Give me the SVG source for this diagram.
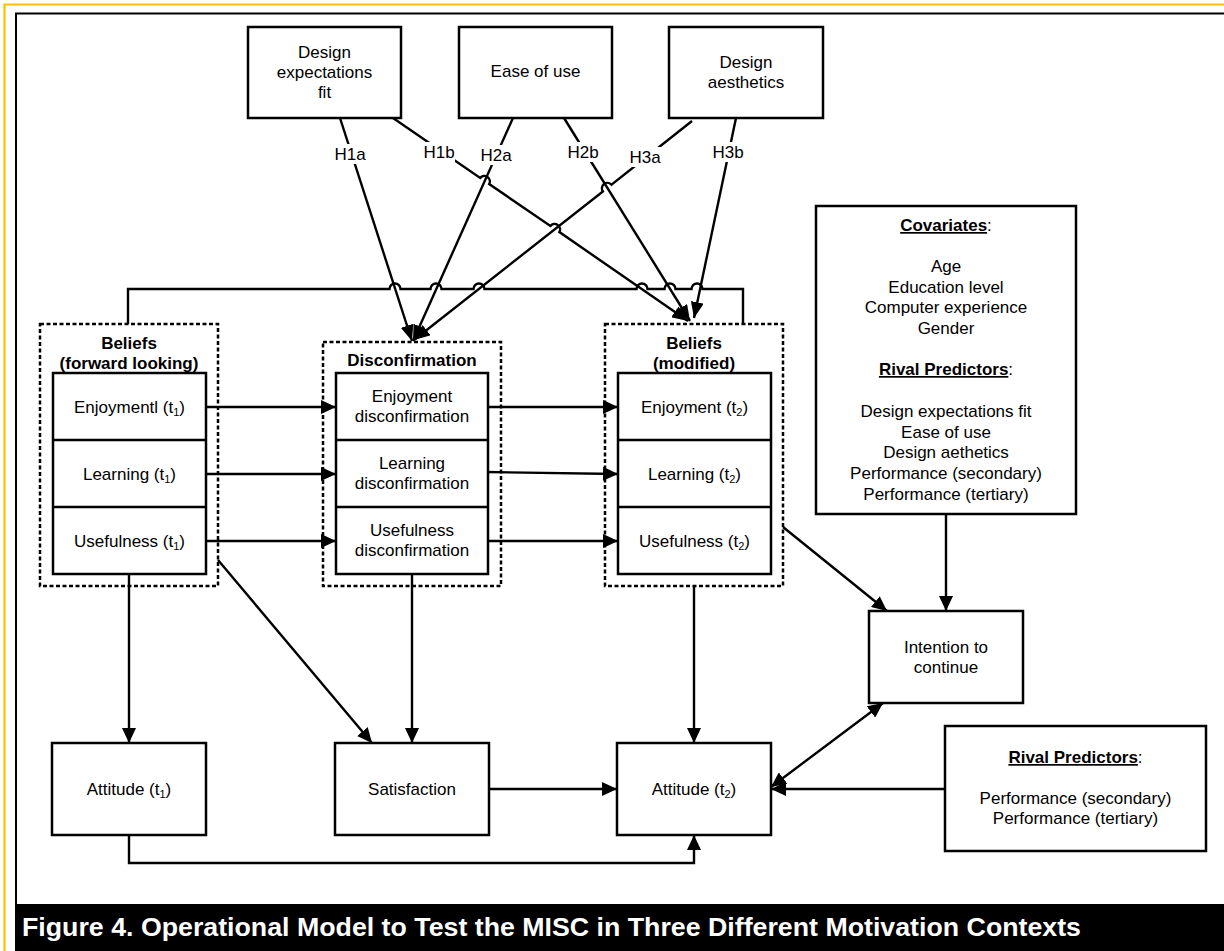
<svg xmlns="http://www.w3.org/2000/svg" width="1224" height="951" viewBox="0 0 1224 951">
  <style>
    text { font-family: "Liberation Sans", Arial, sans-serif; font-size: 17px; fill: #000; text-anchor: middle; }
    .b { font-weight: bold; }
    .box { fill: #fff; stroke: #000; stroke-width: 2.5; }
    .grp { fill: none; stroke: #000; stroke-width: 2.5; stroke-dasharray: 4 2.5; }
    .ln { fill: none; stroke: #000; stroke-width: 2.4; }
    .arr { marker-end: url(#ah); }
    .arr2 { marker-end: url(#ahs); }
    .sub { font-size: 11px; }
    .u { text-decoration: underline; }
    .cap { font-size: 26px; font-weight: bold; fill: #fff; text-anchor: start; }
  </style>
  <defs>
    <marker id="ah" markerUnits="userSpaceOnUse" viewBox="0 0 15 14" markerWidth="15" markerHeight="14" refX="15" refY="7" orient="auto-start-reverse">
      <path d="M0,0 L15,7 L0,14 z" fill="#000"/>
    </marker>
    <marker id="ahs" markerUnits="userSpaceOnUse" viewBox="0 0 16 13" markerWidth="16" markerHeight="13" refX="16" refY="6.5" orient="auto">
      <path d="M0,0 L16,6.5 L0,13 z" fill="#000"/>
    </marker>
  </defs>

  <!-- page frames -->
  <rect x="0" y="0" width="1224" height="951" fill="#fff"/>
  <path d="M4.5,951 V4.5 H1224" fill="none" stroke="#FFC000" stroke-width="2.2"/>
  <path d="M16,904 V13.5 H1224" fill="none" stroke="#000" stroke-width="2"/>

  <!-- connectors -->
  <g id="connectors">
    <!-- feedback line over the top of the belief groups, with hops -->
    <path class="ln" d="M128,324 V289 H389.5 a5.5,5.5 0 0 1 11,0 H430.5 a5.5,5.5 0 0 1 11,0 H473.5 a5.5,5.5 0 0 1 11,0 H636.5 a5.5,5.5 0 0 1 11,0 H664.5 a5.5,5.5 0 0 1 11,0 H691.5 a5.5,5.5 0 0 1 11,0 H743 V324"/>

    <!-- hypothesis paths -->
    <path class="ln arr2" d="M340,118 L412,341"/>
    <path class="ln arr2" d="M393,118 L480.2,177.9 A5.5,5.5 0 0 1 489.2,184.1 L550.4,225.9 A5.5,5.5 0 0 1 559.4,232.1 L688,321"/>
    <path class="ln arr2" d="M513,118 L413,341"/>
    <path class="ln arr2" d="M564,118 L690,321"/>
    <path class="ln arr2" d="M692,121 L611.5,184.6 A5.5,5.5 0 0 0 602.9,191.4 L414,340"/>
    <path class="ln arr2" d="M736,118 L694,318"/>

    <!-- belief rows to disconfirmation rows -->
    <path class="ln arr" d="M206,407 H336"/>
    <path class="ln arr" d="M206,474 H336"/>
    <path class="ln arr" d="M206,541 H336"/>
    <!-- disconfirmation rows to modified beliefs -->
    <path class="ln arr" d="M488,407 H618"/>
    <path class="ln arr" d="M485,472 L618,474"/>
    <path class="ln arr" d="M488,541 H618"/>

    <!-- downward links -->
    <path class="ln arr" d="M129,574 V743"/>
    <path class="ln arr" d="M218,560 L372,743"/>
    <path class="ln arr" d="M412,574 V743"/>
    <path class="ln arr" d="M694,586 V743"/>
    <path class="ln arr" d="M783,527 L887,611"/>
    <path class="ln arr" d="M946,514 V611"/>

    <!-- bottom row -->
    <path class="ln arr" d="M489,789 H617"/>
    <path class="ln arr" d="M945,789 H771"/>
    <path class="ln arr" d="M129,835 V863 H694 V835"/>
    <path class="ln arr" d="M771,787 L883,703" style="marker-start:url(#ah)"/>
  </g>

  <!-- hypothesis labels -->
  <g id="hyp-labels">
    <rect x="334" y="144" width="33" height="20" fill="#fff"/>
    <rect x="422" y="142" width="33" height="20" fill="#fff"/>
    <rect x="479" y="145" width="34" height="20" fill="#fff"/>
    <rect x="567" y="142" width="33" height="20" fill="#fff"/>
    <rect x="628" y="147" width="34" height="20" fill="#fff"/>
    <rect x="712" y="142" width="33" height="20" fill="#fff"/>
    <text x="350" y="160">H1a</text>
    <text x="439" y="158">H1b</text>
    <text x="496" y="161">H2a</text>
    <text x="583" y="158">H2b</text>
    <text x="645" y="163">H3a</text>
    <text x="728" y="158">H3b</text>
  </g>

  <!-- antecedent nodes -->
  <g id="design-fit">
    <rect class="box" x="248" y="27" width="153" height="91"/>
    <text x="324.5" y="58">Design</text>
    <text x="324.5" y="78">expectations</text>
    <text x="324.5" y="98">fit</text>
  </g>
  <g id="ease-of-use">
    <rect class="box" x="459" y="27" width="153" height="91"/>
    <text x="535.5" y="77">Ease of use</text>
  </g>
  <g id="design-aesthetics">
    <rect class="box" x="669" y="27" width="154" height="91"/>
    <text x="746" y="68">Design</text>
    <text x="746" y="88">aesthetics</text>
  </g>

  <!-- beliefs (forward looking) -->
  <g id="beliefs-t1">
    <rect class="grp" x="40" y="324" width="178" height="262"/>
    <text class="b" x="129" y="349">Beliefs</text>
    <text class="b" x="129" y="369">(forward looking)</text>
    <rect class="box" x="53" y="373" width="153" height="201"/>
    <path class="ln" d="M53,440 H206 M53,507 H206"/>
    <text x="129.5" y="413">Enjoymentl (t<tspan class="sub" dy="3">1</tspan><tspan dy="-3">)</tspan></text>
    <text x="129.5" y="480">Learning (t<tspan class="sub" dy="3">1</tspan><tspan dy="-3">)</tspan></text>
    <text x="129.5" y="547">Usefulness (t<tspan class="sub" dy="3">1</tspan><tspan dy="-3">)</tspan></text>
  </g>

  <!-- disconfirmation -->
  <g id="disconfirmation">
    <rect class="grp" x="323" y="342" width="178" height="244"/>
    <text class="b" x="412" y="366">Disconfirmation</text>
    <rect class="box" x="336" y="373" width="152" height="201"/>
    <path class="ln" d="M336,440 H488 M336,507 H488"/>
    <text x="412" y="402">Enjoyment</text>
    <text x="412" y="422">disconfirmation</text>
    <text x="412" y="469">Learning</text>
    <text x="412" y="489">disconfirmation</text>
    <text x="412" y="536">Usefulness</text>
    <text x="412" y="556">disconfirmation</text>
  </g>

  <!-- beliefs (modified) -->
  <g id="beliefs-t2">
    <rect class="grp" x="605" y="324" width="178" height="262"/>
    <text class="b" x="694" y="349">Beliefs</text>
    <text class="b" x="694" y="369">(modified)</text>
    <rect class="box" x="618" y="373" width="153" height="201"/>
    <path class="ln" d="M618,440 H771 M618,507 H771"/>
    <text x="694.5" y="413">Enjoyment (t<tspan class="sub" dy="3">2</tspan><tspan dy="-3">)</tspan></text>
    <text x="694.5" y="480">Learning (t<tspan class="sub" dy="3">2</tspan><tspan dy="-3">)</tspan></text>
    <text x="694.5" y="547">Usefulness (t<tspan class="sub" dy="3">2</tspan><tspan dy="-3">)</tspan></text>
  </g>

  <!-- covariates and rival predictors -->
  <g id="covariates">
    <rect class="box" x="816" y="206" width="260" height="308"/>
    <text x="946" y="231"><tspan class="b u">Covariates</tspan>:</text>
    <text x="946" y="272">Age</text>
    <text x="946" y="293">Education level</text>
    <text x="946" y="313">Computer experience</text>
    <text x="946" y="334">Gender</text>
    <text x="946" y="375"><tspan class="b u">Rival Predictors</tspan>:</text>
    <text x="946" y="417">Design expectations fit</text>
    <text x="946" y="438">Ease of use</text>
    <text x="946" y="458">Design aethetics</text>
    <text x="946" y="479">Performance (secondary)</text>
    <text x="946" y="500">Performance (tertiary)</text>
  </g>

  <g id="intention">
    <rect class="box" x="869" y="611" width="154" height="92"/>
    <text x="946" y="653">Intention to</text>
    <text x="946" y="673">continue</text>
  </g>

  <g id="attitude-t1">
    <rect class="box" x="52" y="743" width="154" height="92"/>
    <text x="129" y="795">Attitude (t<tspan class="sub" dy="3">1</tspan><tspan dy="-3">)</tspan></text>
  </g>
  <g id="satisfaction">
    <rect class="box" x="335" y="743" width="154" height="92"/>
    <text x="412" y="795">Satisfaction</text>
  </g>
  <g id="attitude-t2">
    <rect class="box" x="617" y="743" width="154" height="92"/>
    <text x="694" y="795">Attitude (t<tspan class="sub" dy="3">2</tspan><tspan dy="-3">)</tspan></text>
  </g>
  <g id="rival-predictors">
    <rect class="box" x="945" y="726" width="261" height="125"/>
    <text x="1075.5" y="763"><tspan class="b u">Rival Predictors</tspan>:</text>
    <text x="1075.5" y="804">Performance (secondary)</text>
    <text x="1075.5" y="824">Performance (tertiary)</text>
  </g>

  <!-- caption band -->
  <g id="caption">
    <rect x="15" y="904" width="1209" height="47" fill="#000"/>
    <text class="cap" x="22" y="936" textLength="1059" lengthAdjust="spacingAndGlyphs">Figure 4. Operational Model to Test the MISC in Three Different Motivation Contexts</text>
  </g>
</svg>
